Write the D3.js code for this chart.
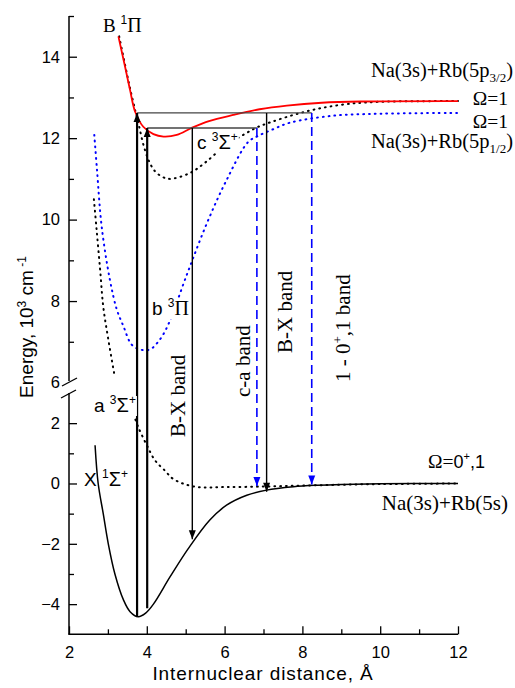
<!DOCTYPE html>
<html>
<head>
<meta charset="utf-8">
<script src="https://cdn.jsdelivr.net/npm/d3@7"></script>
<style>
body { margin: 0; background: #fff; }
</style>
</head>
<body>
<div id="chart"></div>
<script>
// tick values
const xTicks = [2, 4, 6, 8, 10, 12];
const xMinor = [3, 5, 7, 9, 11];
const yTicksUp = [8, 10, 12, 14];
const yMinorUp = [7, 9, 11, 13, 15];
const yTicksLo = [-4, -2, 0, 2];
const yMinorLo = [-3, -1, 1];

// potential curves, [R in A, E in 10^3 cm-1]
const stateX = [[2.67,1.27],[2.75,0],[2.88,-1],[3.01,-2],[3.18,-3],[3.4,-3.86],[3.57,-4.25],[3.78,-4.42],[3.97,-4.3],[4.17,-4.0],[4.6,-3.09],[5.07,-2.15],[5.62,-1.21],[6.05,-0.72],[6.57,-0.39],[7.08,-0.22],[7.77,-0.11],[8.37,-0.06],[9,-0.03],[10,-0.01],[12,0]];
const stateB = [[3.27,14.5],[3.44,13.76],[3.57,13.18],[3.7,12.65],[3.91,12.28],[4.17,12.1],[4.43,12.04],[4.77,12.08],[5.15,12.25],[5.6,12.42],[6.22,12.57],[6.9,12.71],[7.6,12.8],[8.5,12.87],[9.5,12.9],[12,12.91]];
const stateC = [[3.29,14.5],[3.45,13.76],[3.58,13.18],[3.71,12.65],[3.8,12.3],[3.91,11.85],[4.05,11.45],[4.2,11.2],[4.4,11.05],[4.6,11.0],[5.1,11.14],[5.5,11.4],[6.0,11.8],[6.57,12.13],[6.8,12.25],[7.0,12.33],[8.07,12.65],[9,12.82],[9.9,12.89],[12,12.91]];
const stateb = [[2.65,12.08],[2.72,11.22],[2.84,9.83],[3.05,8.53],[3.23,7.79],[3.4,7.38],[3.61,6.93],[3.83,6.81],[4.08,6.81],[4.34,7.06],[4.55,7.42],[5.03,8.65],[5.54,9.9],[6.05,10.97],[6.6,11.9],[6.85,12.05],[7.25,12.22],[7.68,12.38],[8.78,12.55],[10,12.6],[12,12.62]];
const stateAup = [[2.64,10.5],[2.71,9.75],[2.8,8.77],[2.88,7.87],[3.01,7.06],[3.18,6.12]];
const stateAlo = [[3.66,2.3],[3.78,1.87],[4.0,1.27],[4.21,0.77],[4.47,0.42],[4.68,0.15],[5.2,-0.1],[6,-0.12],[7,-0.1],[8,-0.07],[9,-0.04],[10,-0.02],[12,0]];

// transitions: [R, E from, E to]
const upArrows = [[3.75,-4.42,12.62],[4.01,-4.14,12.25]];
const downArrows = [[5.17,12.25,-1.85],[7.08,12.62,-0.27]];
const dashArrows = [[6.83,12.25,-0.08],[8.24,12.62,-0.03]];
const levels = [[3.75,8.24,12.62],[4.01,6.83,12.25]];

var width = 515, height = 688;
const sans = "'Liberation Sans', Arial, sans-serif";
const serif = "'Liberation Serif', 'Times New Roman', serif";
const svg = d3.select("#chart").append("svg")
    .attr("width", width).attr("height", height)
    .style("font-family", sans);

const x = d3.scaleLinear().domain([2, 12]).range([69, 458]);
const yUp = d3.scaleLinear().domain([6, 15]).range([382.5, 16]);
const yLo = d3.scaleLinear().domain([-5, 3]).range([634.3, 393]);
// broken axis: piecewise scale for drawing
const y = d3.scaleLinear().domain([-5, 3, 6, 15]).range([634.3, 393, 382.5, 16]);

const defs = svg.append("defs");
function marker(id, col) {
    defs.append("marker").attr("id", id)
        .attr("markerUnits", "userSpaceOnUse")
        .attr("markerWidth", 12).attr("markerHeight", 10)
        .attr("refX", 9).attr("refY", 3.5)
        .attr("orient", "auto")
        .style("overflow", "visible")
        .append("path").attr("d", "M0,0L9,3.5L0,7Z").attr("fill", col);
}
marker("ah", "#000");
marker("ahb", "#0000ff");

const line = d3.line().x(d => x(d[0])).y(d => y(d[1])).curve(d3.curveCatmullRom.alpha(0.5));

function curve(data, col, w, dash) {
    svg.append("path").datum(data)
        .attr("d", line)
        .attr("fill", "none")
        .attr("stroke", col)
        .attr("stroke-width", w)
        .attr("stroke-dasharray", dash || null)
        .attr("stroke-linecap", dash ? "round" : "butt");
}
curve(stateAup, "#000", 2, "0.8,5");
curve(stateAlo, "#000", 2, "0.8,5");
curve(stateb, "#0000ff", 2, "0.8,5");
curve(stateC, "#000", 2, "0.8,5");
curve(stateX, "#000", 1.5);
curve(stateB, "#ff0000", 1.8);

// horizontal levels
svg.selectAll(".lev").data(levels).enter().append("line")
    .attr("x1", d => x(d[0])).attr("x2", d => x(d[1]))
    .attr("y1", d => y(d[2])).attr("y2", d => y(d[2]))
    .attr("stroke", "#444").attr("stroke-width", 1.3);

svg.selectAll(".up").data(upArrows).enter().append("line")
    .attr("x1", d => x(d[0])).attr("x2", d => x(d[0]))
    .attr("y1", d => y(d[1])).attr("y2", d => y(d[2]))
    .attr("stroke", "#000").attr("stroke-width", 2.2)
    .attr("marker-end", "url(#ah)");

svg.selectAll(".down").data(downArrows).enter().append("line")
    .attr("x1", d => x(d[0])).attr("x2", d => x(d[0]))
    .attr("y1", d => y(d[1])).attr("y2", d => y(d[2]))
    .attr("stroke", "#000").attr("stroke-width", 1.4)
    .attr("marker-end", "url(#ah)");

svg.selectAll(".dash").data(dashArrows).enter().append("line")
    .attr("x1", d => x(d[0])).attr("x2", d => x(d[0]))
    .attr("y1", d => y(d[1])).attr("y2", d => y(d[2]))
    .attr("stroke", "#0000ff").attr("stroke-width", 1.6)
    .attr("stroke-dasharray", "9,5")
    .attr("marker-end", "url(#ahb)");

// axes
const fs = "16.5px";
function styleAxis(g) {
    g.selectAll(".domain").remove();
    g.selectAll("text").style("font-size", fs).style("font-family", sans);
    g.selectAll("line").attr("stroke", "#000").attr("stroke-width", 1.3);
}
function yAxis(sc, ticks, minor) {
    const g = svg.append("g").attr("transform", "translate(69,0)")
        .call(d3.axisLeft(sc).tickValues(ticks).tickSizeInner(-8).tickSizeOuter(0).tickPadding(9));
    styleAxis(g);
    const m = svg.append("g").attr("transform", "translate(69,0)")
        .call(d3.axisLeft(sc).tickValues(minor).tickSizeInner(-5).tickSizeOuter(0).tickFormat(""));
    styleAxis(m);
}
yAxis(yUp, yTicksUp, yMinorUp);
yAxis(yLo, yTicksLo, yMinorLo);
svg.append("text").attr("x", 60).attr("y", yUp(6)).attr("dy", "0.32em")
    .attr("text-anchor", "end").style("font-size", fs).text("6");

svg.append("line").attr("x1", 69).attr("x2", 69).attr("y1", yUp(15)).attr("y2", 381)
    .attr("stroke", "#000").attr("stroke-width", 1.5);
svg.append("line").attr("x1", 69).attr("x2", 69).attr("y1", 393).attr("y2", yLo(-5))
    .attr("stroke", "#000").attr("stroke-width", 1.5);
svg.append("line").attr("x1", 62).attr("y1", 386).attr("x2", 77).attr("y2", 378)
    .attr("stroke", "#000").attr("stroke-width", 1.4);
svg.append("line").attr("x1", 61).attr("y1", 398).attr("x2", 76).attr("y2", 390)
    .attr("stroke", "#000").attr("stroke-width", 1.4);

const gx = svg.append("g").attr("transform", "translate(0," + yLo(-5) + ")")
    .call(d3.axisBottom(x).tickValues(xTicks).tickSizeInner(-8).tickSizeOuter(0).tickPadding(12));
styleAxis(gx);
const gxm = svg.append("g").attr("transform", "translate(0," + yLo(-5) + ")")
    .call(d3.axisBottom(x).tickValues(xMinor).tickSizeInner(-5).tickSizeOuter(0).tickFormat(""));
styleAxis(gxm);
svg.append("line").attr("x1", 68.3).attr("x2", x(12)).attr("y1", yLo(-5)).attr("y2", yLo(-5))
    .attr("stroke", "#000").attr("stroke-width", 1.5);

// axis titles
svg.append("text").attr("x", 263).attr("y", 680)
    .attr("text-anchor", "middle").style("font-size", "19px").style("letter-spacing", "0.9px")
    .text("Internuclear distance,  Å");

const yt = svg.append("text").attr("transform", "translate(33,327) rotate(-90)")
    .attr("text-anchor", "middle").style("font-size", "19px");
yt.append("tspan").text("Energy, 10");
yt.append("tspan").attr("dy", -7).style("font-size", "12px").text("3");
yt.append("tspan").attr("dy", 7).text(" cm");
yt.append("tspan").attr("dy", -7).style("font-size", "12px").text(" -1");

// state labels
function stateLabel(px, py, letter, sup, greek, gsup, bg, letterSerif) {
    const g = svg.append("g");
    const t = g.append("text").attr("x", px).attr("y", py).style("font-size", "19px");
    t.append("tspan").style("font-family", letterSerif ? serif : null).text(letter + " ");
    t.append("tspan").attr("dy", -8).style("font-size", "12px").text(sup);
    t.append("tspan").attr("dy", 8).style("font-size", "20px")
        .style("font-family", greek === "Π" ? serif : null).text(greek);
    if (gsup) t.append("tspan").attr("dy", -8).style("font-size", "12px").text(gsup);
    if (bg) {
        const b = t.node().getBBox();
        g.insert("rect", "text").attr("x", b.x).attr("y", b.y + 3)
            .attr("width", b.width + 1).attr("height", b.height - 3).attr("fill", "#fff");
    }
}
stateLabel(103, 32, "B", "1", "Π", null, false, true);
stateLabel(197, 149, "c", "3", "Σ", "+", true);
stateLabel(152, 315, "b", "3", "Π", null, true);
stateLabel(94, 412, "a", "3", "Σ", "+", true);
stateLabel(84, 486, "X", "1", "Σ", "+", false);

// band labels (rotated)
function band(px, py, parts) {
    const t = svg.append("text").attr("transform", "translate(" + px + "," + py + ") rotate(-90)")
        .style("font-family", serif).style("font-size", "21px");
    parts.forEach(p => {
        const s = t.append("tspan").text(p[0]);
        if (p[1]) s.attr("dy", p[1]);
        if (p[2]) s.style("font-size", p[2]);
    });
}
band(185, 437, [["B-X band"]]);
band(250, 397, [["c-a band"]]);
band(292, 353, [["B-X band"]]);
band(350, 382, [["1 - 0"], ["+", -8, "13px"], [",1 band", 8]]);

// asymptote labels
function asym(px, py, anchor, size, parts) {
    const t = svg.append("text").attr("x", px).attr("y", py).attr("text-anchor", anchor)
        .style("font-family", serif).style("font-size", size);
    parts.forEach(p => {
        const s = t.append("tspan").text(p[0]);
        if (p[1]) s.attr("dy", p[1]);
        if (p[2]) s.style("font-size", p[2]);
        if (p[3]) s.style("font-family", p[3]);
    });
}
asym(513, 77, "end", "20.5px", [["Na(3s)+Rb(5p"], ["3/2", 5, "13px"], [")", -5]]);
asym(508, 105, "end", "19.5px", [["Ω=1"]]);
asym(508, 128, "end", "19.5px", [["Ω=1"]]);
asym(513, 148, "end", "20.5px", [["Na(3s)+Rb(5p"], ["1/2", 5, "13px"], [")", -5]]);
asym(428, 468, "start", "19.5px", [["Ω="], ["0", 0, "18px", sans], ["+", -8, "11px", sans], [",1", 8, "18px", sans]]);
asym(508, 510, "end", "21px", [["Na(3s)+Rb(5s)"]]);
</script>
</body>
</html>
